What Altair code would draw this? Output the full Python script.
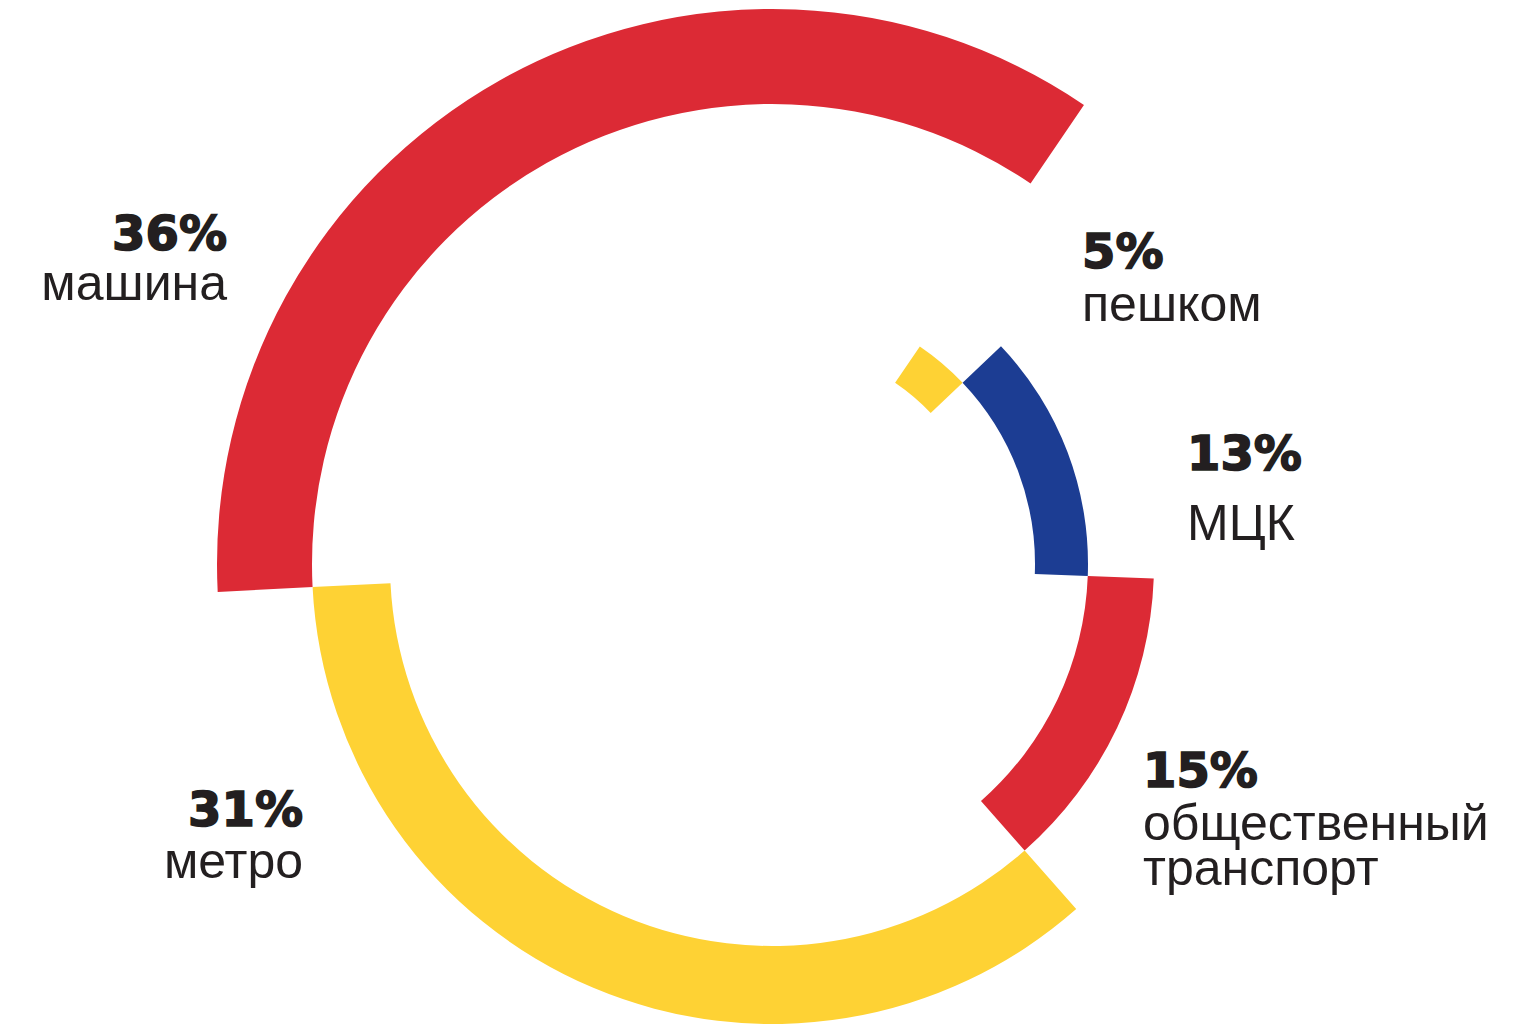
import math
import altair as alt
import pandas as pd

# ---- data ----
names = ["пешком", "МЦК", "общественный\nтранспорт", "метро", "машина"]
percent = [5, 13, 15, 31, 36]
# share of the full circle that each arc spans as drawn (%)
drawn_share = [3.4, 12.7, 12.9, 35.7, 35.3]
# nesting level of each ring, 0 = outermost
ring = [4, 3, 2, 1, 0]

# ---- styles / layout ----
seg_colors = ["#FED234", "#1C3D93", "#DC2A35", "#FED234", "#DC2A35"]
ring_radii = [555, 460, 382, 316, 263, 219]
start_angle = math.radians(34.2)
cx, cy = 764, 556  # chart coords (page minus 8px margin)

label_x = [1074, 1179, 1135, 295, 219]
label_align = ["left", "left", "left", "right", "right"]
num_baseline = [260, 462, 779, 818, 242]
name_baseline = [313, 532, 832, 870, 292]

ink = "#231F20"

df = pd.DataFrame({
    "name": names,
    "pct": [f"{p}%" for p in percent],
    "share": drawn_share,
    "outer": ring,
    "inner": [r + 1 for r in ring],
    "idx": list(range(len(names))),
    "lx": label_x,
    "align": label_align,
    "ny": num_baseline,
    "ty": name_baseline,
})

arcs = alt.Chart(df).transform_window(
    cum="sum(share)", sort=[alt.SortField("idx", order="ascending")],
    frame=[None, 0],
).transform_calculate(
    start="datum.cum - datum.share"
).mark_arc(stroke=None).encode(
    x=alt.value(cx),
    y=alt.value(cy),
    theta=alt.Theta("start:Q", stack=None,
                    scale=alt.Scale(domain=[0, 100],
                                    range=[start_angle, start_angle + 2 * math.pi])),
    theta2=alt.Theta2("cum:Q"),
    radius=alt.Radius("outer:Q",
                      scale=alt.Scale(type="linear", domain=[0, 1, 2, 3, 4, 5],
                                      range=ring_radii, zero=False)),
    radius2=alt.Radius2("inner:Q"),
    color=alt.Color("name:N", scale=alt.Scale(domain=names, range=seg_colors), legend=None),
)

layers = [arcs]
for al in ["left", "right"]:
    base = alt.Chart(df).transform_filter(alt.datum.align == al)
    layers.append(
        base.mark_text(align=al, baseline="alphabetic", font="DejaVu Sans",
                       fontWeight="bold", fontSize=48, color=ink,
                       stroke=ink, strokeWidth=1.6).encode(
            x=alt.X("lx:Q", scale=None),
            y=alt.Y("ny:Q", scale=None),
            text="pct:N",
        )
    )
    layers.append(
        base.mark_text(align=al, baseline="alphabetic", font="Liberation Sans",
                       fontSize=50, color=ink, lineBreak="\n", lineHeight=45).encode(
            x=alt.X("lx:Q", scale=None),
            y=alt.Y("ty:Q", scale=None),
            text="name:N",
        )
    )

chart = alt.layer(*layers).properties(
    width=1521, height=1016, padding=0,
    autosize=alt.AutoSizeParams(type="none"),
    background="white",
).configure_view(stroke=None)

chart.save("out.html", embed_options={"renderer": "svg", "actions": False})
